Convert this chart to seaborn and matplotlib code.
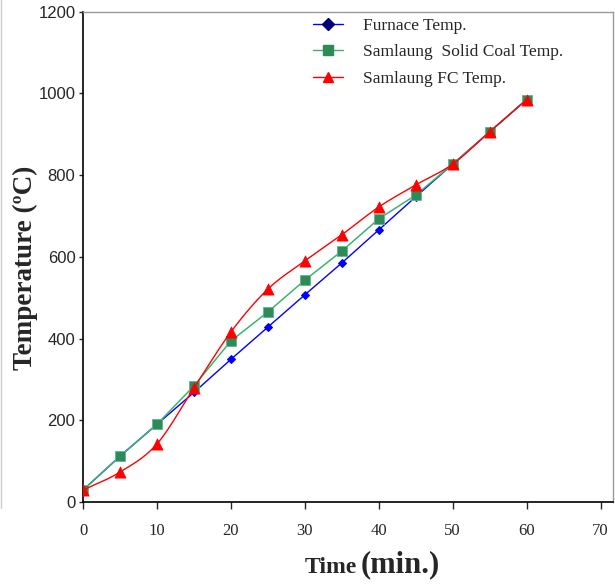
import numpy as np
import pandas as pd
import matplotlib
matplotlib.use("Agg")
import matplotlib.pyplot as plt
from matplotlib.lines import Line2D
import seaborn as sns

time_min = [0, 5, 10, 15, 20, 25, 30, 35, 40, 45, 50, 55, 60]
furnace = [29, 112, 190, 268, 349, 428, 507, 585, 666, 747, 827, 906, 985]
solid_coal = [29, 112, 190, 284, 394, 465, 543, 614, 693, 751, 827, 906, 985]
fc = [29, 73, 142, 279, 416, 521, 590, 654, 722, 776, 827, 906, 985]


def smooth(x, y, n=20):
    # catmull-rom style curve through the points (like the spreadsheet "smoothed line")
    x = np.asarray(x, float)
    y = np.asarray(y, float)
    px = np.concatenate([[2 * x[0] - x[1]], x, [2 * x[-1] - x[-2]]])
    py = np.concatenate([[2 * y[0] - y[1]], y, [2 * y[-1] - y[-2]]])
    xs, ys = [], []
    t = np.linspace(0, 1, n, endpoint=False)
    for i in range(1, len(px) - 2):
        for arr, out in ((px, xs), (py, ys)):
            p0, p1, p2, p3 = arr[i - 1], arr[i], arr[i + 1], arr[i + 2]
            out.extend(0.5 * ((2 * p1) + (-p0 + p2) * t +
                              (2 * p0 - 5 * p1 + 4 * p2 - p3) * t ** 2 +
                              (-p0 + 3 * p1 - 3 * p2 + p3) * t ** 3))
    xs.append(x[-1])
    ys.append(y[-1])
    return np.array(xs), np.array(ys)


df = pd.DataFrame({'time': time_min, 'furnace': furnace,
                   'solid': solid_coal, 'fc': fc})

sns.set_style('white')
fig = plt.figure(figsize=(6.15, 5.85), dpi=100)
ax = fig.add_axes([0.135, 0.142, 0.862, 0.838])

sns.lineplot(x='time', y='furnace', data=df, ax=ax, color='#0000FF', lw=1,
             marker='D', markersize=4.5, markerfacecolor='#0000FF',
             markeredgecolor='#0000FF')
sns.lineplot(x='time', y='solid', data=df, ax=ax, color='#3CB371', lw=1.1,
             marker='s', markersize=6.5, markerfacecolor='#2E8B57',
             markeredgecolor='#5FB88A', markeredgewidth=0.6)
sx, sy = smooth(time_min, fc)
ax.plot(sx, sy, color='#FF0000', lw=1)
sns.scatterplot(x='time', y='fc', data=df, ax=ax, color='#FF0000',
                marker='^', s=65, edgecolor='#FF0000', linewidth=0.5, zorder=5)

ax.set_xlim(0, 71.7)
ax.set_ylim(0, 1200)
ax.set_xticks(range(0, 71, 10))
ax.set_yticks(range(0, 1201, 200))
ax.set_xlabel('')
ax.set_ylabel('')

for s in ['top', 'right']:
    ax.spines[s].set_color('#999999')
    ax.spines[s].set_linewidth(1)
for s in ['left', 'bottom']:
    ax.spines[s].set_color('black')
    ax.spines[s].set_linewidth(1.2)

ax.tick_params(axis='y', direction='out', length=3, width=1, pad=2.5,
               labelsize=12, left=True)
ax.tick_params(axis='x', direction='out', length=5, width=1, pad=10,
               labelsize=12, bottom=True)
for lab in ax.get_yticklabels():
    lab.set_fontfamily('Liberation Sans')
for lab in ax.get_xticklabels():
    lab.set_fontfamily('Liberation Serif')

fig.text(0.042, 0.542, 'Temperature (ºC)', rotation=90, ha='center', va='center',
         fontsize=19.5, fontweight='bold', family='Liberation Serif')
fig.text(0.581, 0.021, 'Time', ha='right', va='baseline',
         fontsize=17, fontweight='bold', family='Liberation Serif')
fig.text(0.586, 0.021, '(min.)', ha='left', va='baseline',
         fontsize=22, fontweight='bold', family='Liberation Serif')

# light border left over from the original figure frame
fig.add_artist(Line2D([0.002, 0.002], [1 - 508 / 585, 1], color='#cccccc', lw=1))

handles = [
    Line2D([], [], color='#0000FF', lw=1, marker='D', markersize=6,
           markerfacecolor='#000080', markeredgecolor='#000080'),
    Line2D([], [], color='#3CB371', lw=1, marker='s', markersize=7.5,
           markerfacecolor='#2E8B57', markeredgecolor='#2E8B57'),
    Line2D([], [], color='#FF0000', lw=1, marker='^', markersize=7.5,
           markerfacecolor='#FF0000', markeredgecolor='#FF0000'),
]
labels = ['Furnace Temp.', 'Samlaung  Solid Coal Temp.', 'Samlaung FC Temp.']
ax.legend(handles, labels, loc='upper left', bbox_to_anchor=(0.404, 1.02),
          frameon=False, prop={'family': 'Liberation Serif', 'size': 12.5},
          handlelength=1.75, labelspacing=0.6, handletextpad=1.15)

fig.savefig('out.png', dpi=100)
